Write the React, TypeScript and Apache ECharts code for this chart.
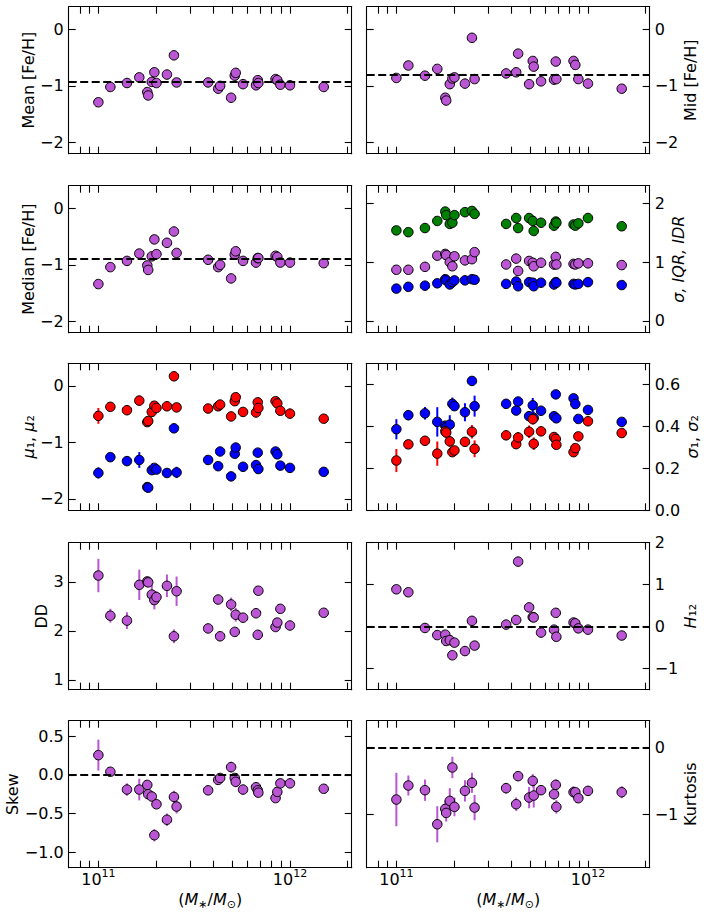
import React, { useEffect, useRef } from 'react';
import * as echarts from 'echarts';

// Stellar masses of the galaxies (M*/Msun)
const masses = [1.0e11, 1.155e11, 1.41e11, 1.635e11, 1.8e11, 1.82e11, 1.9e11, 1.96e11, 2.01e11, 2.28e11, 2.48e11, 2.56e11, 3.74e11, 4.22e11, 4.32e11, 4.93e11, 5.15e11, 5.21e11, 5.69e11, 6.65e11, 6.79e11, 6.84e11, 8.41e11, 8.59e11, 8.91e11, 1.0e12, 1.5e12];

const meanFeH = [-1.29, -1.02, -0.95, -0.85, -1.11, -1.17, -0.93, -0.76, -0.95, -0.8, -0.46, -0.94, -0.94, -1.05, -1.0, -1.21, -0.82, -0.77, -0.97, -0.99, -0.9, -0.95, -0.88, -0.9, -0.98, -0.99, -1.02];
const midFeH = [-0.86, -0.64, -0.82, -0.7, -1.21, -1.26, -0.97, -0.87, -0.85, -0.96, -0.15, -0.88, -0.78, -0.76, -0.43, -0.97, -0.56, -0.66, -0.92, -0.89, -0.57, -0.88, -0.56, -0.63, -0.88, -0.96, -1.05];
const medianFeH = [-1.34, -1.04, -0.93, -0.8, -1.01, -1.09, -0.85, -0.55, -0.81, -0.61, -0.41, -0.79, -0.91, -1.04, -1.0, -1.24, -0.82, -0.76, -0.93, -0.96, -0.88, -0.88, -0.84, -0.86, -0.96, -0.96, -0.97];

const sigmaVals = [0.55, 0.58, 0.6, 0.64, 0.71, 0.69, 0.62, 0.66, 0.69, 0.69, 0.71, 0.7, 0.63, 0.67, 0.59, 0.66, 0.65, 0.59, 0.65, 0.62, 0.66, 0.65, 0.63, 0.62, 0.63, 0.66, 0.61];
const iqrVals = [0.87, 0.87, 0.92, 1.11, 1.14, 1.12, 1.0, 0.93, 1.1, 1.03, 1.05, 1.17, 0.96, 1.06, 0.85, 1.02, 0.99, 0.93, 0.99, 0.96, 1.09, 0.96, 0.97, 0.96, 0.98, 0.98, 0.95];
const idrVals = [1.54, 1.51, 1.58, 1.7, 1.86, 1.8, 1.65, 1.67, 1.8, 1.85, 1.87, 1.82, 1.65, 1.75, 1.58, 1.75, 1.7, 1.53, 1.67, 1.62, 1.69, 1.67, 1.64, 1.62, 1.66, 1.75, 1.61];

const mu1 = [-0.53, -0.37, -0.43, -0.26, -0.64, -0.62, -0.46, -0.35, -0.39, -0.36, 0.17, -0.38, -0.4, -0.36, -0.33, -0.54, -0.27, -0.2, -0.46, -0.47, -0.29, -0.39, -0.27, -0.31, -0.44, -0.49, -0.58];
const mu1Err = [0.14, 0.05, 0.05, 0.09, 0.06, 0.06, 0.05, 0.05, 0.05, 0.05, 0.05, 0.05, 0.04, 0.04, 0.04, 0.04, 0.04, 0.04, 0.04, 0.04, 0.04, 0.04, 0.04, 0.04, 0.04, 0.04, 0.04];
const mu2 = [-1.54, -1.26, -1.33, -1.31, -1.79, -1.8, -1.49, -1.45, -1.48, -1.54, -0.75, -1.53, -1.31, -1.42, -1.16, -1.6, -1.2, -1.09, -1.43, -1.4, -1.18, -1.47, -1.16, -1.21, -1.41, -1.45, -1.52];
const mu2Err = [0.1, 0.05, 0.05, 0.14, 0.06, 0.06, 0.05, 0.05, 0.05, 0.05, 0.05, 0.1, 0.04, 0.04, 0.04, 0.04, 0.04, 0.04, 0.04, 0.04, 0.04, 0.04, 0.04, 0.04, 0.04, 0.04, 0.04];

const sigma1 = [0.237, 0.314, 0.331, 0.27, 0.376, 0.37, 0.328, 0.277, 0.285, 0.326, 0.374, 0.293, 0.357, 0.315, 0.347, 0.374, 0.434, 0.317, 0.376, 0.349, 0.34, 0.312, 0.277, 0.296, 0.352, 0.424, 0.368];
const sigma1Err = [0.055, 0.02, 0.02, 0.058, 0.025, 0.025, 0.025, 0.02, 0.02, 0.02, 0.032, 0.04, 0.02, 0.02, 0.025, 0.03, 0.025, 0.03, 0.02, 0.02, 0.02, 0.02, 0.02, 0.02, 0.02, 0.02, 0.02];
const sigma2 = [0.386, 0.453, 0.462, 0.421, 0.403, 0.395, 0.408, 0.507, 0.496, 0.467, 0.616, 0.496, 0.507, 0.475, 0.518, 0.448, 0.5, 0.44, 0.474, 0.448, 0.552, 0.438, 0.533, 0.506, 0.435, 0.478, 0.421];
const sigma2Err = [0.048, 0.024, 0.03, 0.07, 0.02, 0.02, 0.045, 0.03, 0.02, 0.043, 0.02, 0.05, 0.02, 0.02, 0.02, 0.025, 0.035, 0.03, 0.015, 0.015, 0.015, 0.015, 0.015, 0.015, 0.015, 0.015, 0.015];

const ddVals = [3.13, 2.31, 2.21, 2.94, 3.01, 2.99, 2.74, 2.63, 2.69, 2.92, 1.89, 2.81, 2.05, 2.64, 1.89, 2.54, 1.98, 2.33, 2.27, 2.36, 1.92, 2.82, 2.08, 2.17, 2.45, 2.11, 2.37];
const ddErr = [0.34, 0.14, 0.17, 0.31, 0.05, 0.05, 0.2, 0.19, 0.12, 0.23, 0.14, 0.3, 0.08, 0.06, 0.06, 0.14, 0.07, 0.14, 0.07, 0.07, 0.06, 0.06, 0.05, 0.05, 0.05, 0.05, 0.05];

const h12Vals = [0.89, 0.82, -0.03, -0.2, -0.19, -0.34, -0.32, -0.68, -0.38, -0.58, 0.14, -0.45, 0.05, 0.16, 1.55, 0.46, 0.23, 0.22, -0.14, -0.07, 0.33, -0.24, 0.1, 0.08, -0.04, -0.07, -0.21];

const skewVals = [0.255, 0.04, -0.19, -0.19, -0.13, -0.25, -0.28, -0.78, -0.38, -0.58, -0.285, -0.41, -0.2, -0.065, -0.04, 0.1, -0.04, -0.09, -0.19, -0.16, -0.2, -0.23, -0.3, -0.22, -0.11, -0.11, -0.18];
const skewErr = [0.2, 0.06, 0.08, 0.14, 0.05, 0.05, 0.06, 0.08, 0.05, 0.08, 0.08, 0.09, 0.04, 0.04, 0.04, 0.07, 0.04, 0.07, 0.04, 0.05, 0.04, 0.04, 0.04, 0.04, 0.04, 0.04, 0.04];

const kurtVals = [-0.78, -0.57, -0.64, -1.15, -0.92, -0.98, -0.8, -0.3, -0.89, -0.65, -0.53, -0.9, -0.61, -0.85, -0.43, -0.75, -0.5, -0.72, -0.64, -0.7, -0.56, -0.89, -0.67, -0.67, -0.76, -0.65, -0.67];
const kurtErr = [0.4, 0.15, 0.16, 0.27, 0.13, 0.13, 0.19, 0.16, 0.14, 0.16, 0.15, 0.19, 0.08, 0.1, 0.06, 0.16, 0.1, 0.18, 0.07, 0.08, 0.08, 0.1, 0.09, 0.06, 0.07, 0.06, 0.09];

// Reference lines
const hMean = -0.93;
const hMid = -0.81;
const hMedian = -0.895;

// Axis ticks
const xMin = 7e10;
const xMax = 2.1e12;
const xTicks = [8e10, 9e10, 1e11, 2e11, 3e11, 4e11, 5e11, 6e11, 7e11, 8e11, 9e11, 1e12, 2e12];
const xLabels = [1e11, 1e12];

const PURPLE = '#BA55D3';
const RED = '#FF0000';
const BLUE = '#0000FF';
const GREEN = '#008000';
const FONT = 'DejaVu Sans';
const FS = 16;

type S = { values: number[]; color: string; err?: number[] };
type Panel = {
  ymin: number; ymax: number; ticks: number[]; dec: number;
  name: string; gap: number; hline?: number; series: S[];
};

const panels: Panel[] = [
  { ymin: -2.2, ymax: 0.4, ticks: [-2, -1, 0], dec: 0, name: 'Mean [Fe/H]', gap: 32, hline: hMean, series: [{ values: meanFeH, color: PURPLE }] },
  { ymin: -2.2, ymax: 0.4, ticks: [-2, -1, 0], dec: 0, name: 'Mid [Fe/H]', gap: 30.5, hline: hMid, series: [{ values: midFeH, color: PURPLE }] },
  { ymin: -2.2, ymax: 0.4, ticks: [-2, -1, 0], dec: 0, name: 'Median [Fe/H]', gap: 32, hline: hMedian, series: [{ values: medianFeH, color: PURPLE }] },
  { ymin: -0.2, ymax: 2.3, ticks: [0, 1, 2], dec: 0, name: '{i|σ, IQR, IDR}', gap: 20.5, series: [{ values: sigmaVals, color: BLUE }, { values: iqrVals, color: PURPLE }, { values: idrVals, color: GREEN }] },
  { ymin: -2.2, ymax: 0.4, ticks: [-2, -1, 0], dec: 0, name: '{i|μ}₁, {i|μ}₂', gap: 29.5, series: [{ values: mu1, color: RED, err: mu1Err }, { values: mu2, color: BLUE, err: mu2Err }] },
  { ymin: 0, ymax: 0.7, ticks: [0, 0.2, 0.4, 0.6], dec: 1, name: '{i|σ}₁, {i|σ}₂', gap: 34, series: [{ values: sigma2, color: BLUE, err: sigma2Err }, { values: sigma1, color: RED, err: sigma1Err }] },
  { ymin: 0.8, ymax: 3.8, ticks: [1, 2, 3], dec: 0, name: 'DD', gap: 18.5, series: [{ values: ddVals, color: PURPLE, err: ddErr }] },
  { ymin: -1.5, ymax: 2, ticks: [-1, 0, 1, 2], dec: 0, name: '{i|H}₁₂', gap: 32.5, hline: 0, series: [{ values: h12Vals, color: PURPLE }] },
  { ymin: -1.2, ymax: 0.7, ticks: [-1, -0.5, 0, 0.5], dec: 1, name: 'Skew', gap: 47, hline: 0, series: [{ values: skewVals, color: PURPLE, err: skewErr }] },
  { ymin: -1.8, ymax: 0.4, ticks: [-1, 0], dec: 0, name: 'Kurtosis', gap: 30.5, hline: 0, series: [{ values: kurtVals, color: PURPLE, err: kurtErr }] },
];

const tops = [6.7, 185.7, 363.3, 542.7, 720.7];
const gridH = 147;
const lefts = [68.7, 366.7];
const gridW = 283;

const fmtY = (dec: number) => (v: number) => {
  const s = Math.abs(v).toFixed(dec);
  return v < -1e-9 ? '−' + s : s;
};

function buildOption() {
  const grids: any[] = [];
  const xAxes: any[] = [];
  const yAxes: any[] = [];
  const series: any[] = [];
  const lineStyle = { color: '#000', width: 1.1 };
  const tickStyle = { color: '#000', width: 1.1 };

  panels.forEach((p, i) => {
    const r = Math.floor(i / 2);
    const c = i % 2;
    grids.push({ left: lefts[c], top: tops[r], width: gridW, height: gridH, containLabel: false });
    const bottomRow = r === 4;
    const xBase = {
      type: 'log', logBase: 10, gridIndex: i, min: xMin, max: xMax,
      axisLine: { show: true, onZero: false, lineStyle },
      axisTick: { show: true, inside: true, length: 7, lineStyle: tickStyle, customValues: xTicks },
      splitLine: { show: false },
      minorTick: { show: false },
      minorSplitLine: { show: false },
    };
    xAxes.push({
      ...xBase,
      position: 'bottom',
      axisLabel: bottomRow
        ? {
            show: true, customValues: xLabels, margin: 0, color: '#000', fontFamily: FONT, fontSize: FS,
            formatter: (v: number) => (v > 5e11 ? '{b|10}{s|12}' : '{b|10}{s|11}'),
            rich: {
              b: { fontSize: FS, fontFamily: FONT, color: '#000', lineHeight: 24 },
              s: { fontSize: 11, fontFamily: FONT, color: '#000', lineHeight: 9, verticalAlign: 'top' },
            },
          }
        : { show: false },
      name: bottomRow ? '({i|M}{s|∗}/{i|M}{s|⊙})' : '',
      nameLocation: 'middle',
      nameGap: 22,
      nameTextStyle: {
        fontSize: FS, fontFamily: FONT, color: '#000', lineHeight: 20,
        rich: {
          i: { fontSize: FS, fontFamily: FONT, fontStyle: 'italic', color: '#000', lineHeight: 20 },
          s: { fontSize: 11, fontFamily: FONT, color: '#000', lineHeight: 12, verticalAlign: 'bottom' },
        },
      },
    });
    xAxes.push({ ...xBase, position: 'top', axisLabel: { show: false } });

    const yBase = {
      type: 'value', gridIndex: i, min: p.ymin, max: p.ymax,
      axisLine: { show: true, onZero: false, lineStyle },
      axisTick: { show: true, inside: true, length: 7, lineStyle: tickStyle, customValues: p.ticks },
      splitLine: { show: false },
    };
    yAxes.push({
      ...yBase,
      position: c === 0 ? 'left' : 'right',
      axisLabel: {
        show: true, customValues: p.ticks, formatter: fmtY(p.dec), margin: 5,
        fontSize: FS, fontFamily: FONT, color: '#000',
      },
      name: p.name,
      nameLocation: 'middle',
      nameGap: p.gap,
      nameTextStyle: {
        fontSize: FS, fontFamily: FONT, color: '#000',
        rich: { i: { fontSize: FS, fontFamily: FONT, fontStyle: 'italic', color: '#000' } },
      },
    });
    yAxes.push({ ...yBase, position: c === 0 ? 'right' : 'left', axisLabel: { show: false } });

    const xi = 2 * i;
    const yi = 2 * i;
    p.series.forEach((s, k) => {
      if (s.err) {
        const err = s.err;
        const color = s.color;
        series.push({
          type: 'custom', xAxisIndex: xi, yAxisIndex: yi, silent: true, z: 2,
          data: masses.map((m, j) => [m, s.values[j] - err[j], s.values[j] + err[j]]),
          encode: { x: 0, y: [1, 2] },
          renderItem: (_params: any, api: any) => {
            const x = api.value(0);
            const a = api.coord([x, api.value(1)]);
            const b = api.coord([x, api.value(2)]);
            return {
              type: 'line',
              shape: { x1: a[0], y1: a[1], x2: b[0], y2: b[1] },
              style: { stroke: color, lineWidth: 2 },
            };
          },
        });
      }
      const sc: any = {
        type: 'scatter', xAxisIndex: xi, yAxisIndex: yi, z: 3 + k,
        symbol: 'circle', symbolSize: 9.5,
        itemStyle: { color: s.color, borderColor: '#000', borderWidth: 1, opacity: 1 },
        data: masses.map((m, j) => [m, s.values[j]]),
        silent: true,
      };
      if (k === 0 && p.hline !== undefined) {
        sc.markLine = {
          silent: true, symbol: 'none', animation: false,
          label: { show: false },
          lineStyle: { color: '#000', type: [8, 3.5], width: 2 },
          emphasis: { disabled: true },
          data: [{ yAxis: p.hline }],
        };
      }
      series.push(sc);
    });
  });

  return {
    animation: false,
    backgroundColor: '#fff',
    textStyle: { fontFamily: FONT, fontSize: FS },
    grid: grids,
    xAxis: xAxes,
    yAxis: yAxes,
    series,
  };
}

export default function App() {
  const ref = useRef<HTMLDivElement>(null);
  useEffect(() => {
    const chart = echarts.init(ref.current!, null, { renderer: 'svg' });
    chart.setOption(buildOption() as any);
    return () => chart.dispose();
  }, []);
  return <div ref={ref} style={{ position: 'absolute', left: 0, top: 0, width: 706, height: 914 }} />;
}
